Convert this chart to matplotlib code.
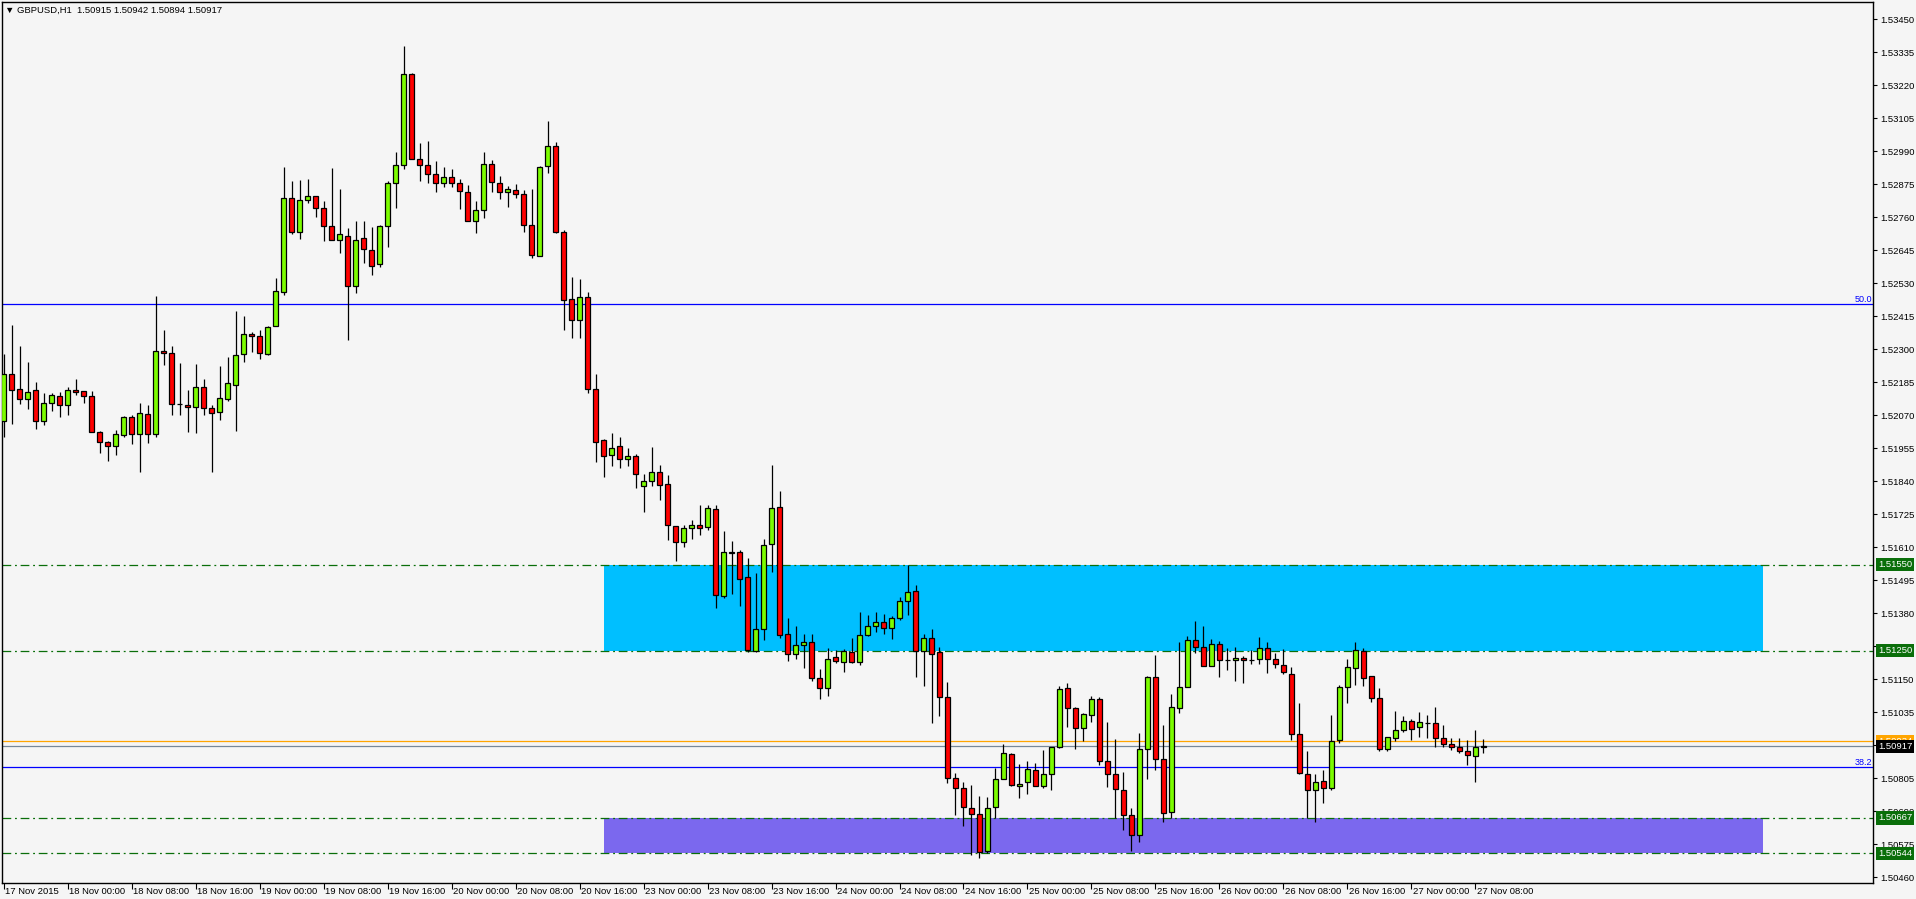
import matplotlib
matplotlib.use("Agg")
import matplotlib.pyplot as plt
import matplotlib.transforms as mtransforms
from matplotlib.patches import Rectangle
import numpy as np

# ---------------- data ----------------
opens = [1.52049,1.52213,1.52161,1.52126,1.52157,1.52049,1.52112,1.52136,1.52105,1.52157,
         1.52154,1.52136,1.52011,1.51976,1.51962,1.52000,1.52063,1.52006,1.52073,1.52006,
         1.52293,1.52286,1.52108,1.52105,1.52098,1.52168,1.52094,1.52080,1.52126,1.52175,
         1.52283,1.52352,1.52345,1.52283,1.52380,1.52499,1.52826,1.52708,1.52819,1.52833,
         1.52791,1.52729,1.52680,1.52694,1.52519,1.52687,1.52645,1.52596,1.52729,1.52878,
         1.52941,1.53258,1.52962,1.52941,1.52910,1.52878,1.52899,1.52878,1.52847,1.52746,
         1.52784,1.52945,1.52878,1.52847,1.52854,1.52840,1.52732,1.52624,1.52938,1.53007,
         1.52708,1.52474,1.52401,1.52481,1.52161,1.51983,1.51931,1.51962,1.51917,1.51927,
         1.51823,1.51840,1.51871,1.51830,1.51683,1.51627,1.51676,1.51687,1.51680,1.51742,
         1.51439,1.51593,1.51593,1.51506,1.51248,1.51324,1.51620,1.51749,1.51307,1.51237,
         1.51269,1.51279,1.51154,1.51119,1.51227,1.51209,1.51244,1.51209,1.51303,1.51335,
         1.51350,1.51328,1.51363,1.51422,1.51457,1.51249,1.51293,1.51244,1.51087,1.50805,
         1.50770,1.50701,1.50680,1.50551,1.50704,1.50802,1.50889,1.50777,1.50791,1.50833,
         1.50777,1.50819,1.50913,1.51119,1.51049,1.50979,1.51025,1.51080,1.50864,1.50819,
         1.50763,1.50676,1.50607,1.50906,1.51157,1.50871,1.50687,1.51049,1.51122,1.51286,
         1.51262,1.51195,1.51272,1.51218,1.51216,1.51223,1.51218,1.51220,1.51258,1.51220,
         1.51199,1.51168,1.50959,1.50819,1.50763,1.50795,1.50770,1.50938,1.51122,1.51188,
         1.51248,1.51161,1.51084,1.50906,1.50945,1.50972,1.51004,1.50983,1.50998,1.50997,
         1.50945,1.50924,1.50913,1.50899,1.50882,1.50915]
highs = [1.52284,1.52385,1.52311,1.52256,1.52186,1.52148,1.52147,1.52151,1.52170,1.52197,
         1.52155,1.52154,1.52016,1.51979,1.52019,1.52068,1.52070,1.52112,1.52105,1.52486,
         1.52367,1.52311,1.52251,1.52158,1.52249,1.52197,1.52105,1.52242,1.52272,1.52432,
         1.52416,1.52359,1.52367,1.52381,1.52548,1.52934,1.52886,1.52890,1.52893,1.52835,
         1.52816,1.52932,1.52859,1.52722,1.52747,1.52747,1.52726,1.52732,1.52885,1.52986,
         1.53357,1.53262,1.53018,1.53025,1.52955,1.52934,1.52927,1.52892,1.52871,1.52816,
         1.52986,1.52959,1.52903,1.52868,1.52875,1.52854,1.52857,1.52938,1.53095,1.53021,
         1.52715,1.52552,1.52544,1.52499,1.52213,1.51986,1.52008,1.51994,1.51955,1.51934,
         1.51864,1.51959,1.51896,1.51861,1.51685,1.51687,1.51704,1.51756,1.51759,1.51756,
         1.51666,1.51631,1.51600,1.51572,1.51519,1.51638,1.51897,1.51805,1.51363,1.51335,
         1.51307,1.51307,1.51185,1.51258,1.51251,1.51255,1.51293,1.51384,1.51373,1.51385,
         1.51378,1.51370,1.51436,1.51548,1.51479,1.51308,1.51324,1.51262,1.51141,1.50823,
         1.50791,1.50781,1.50743,1.50739,1.50840,1.50924,1.50892,1.50854,1.50864,1.50857,
         1.50903,1.50913,1.51126,1.51136,1.51052,1.51032,1.51091,1.51087,1.51000,1.50941,
         1.50826,1.50701,1.50962,1.51161,1.51234,1.50990,1.51098,1.51279,1.51300,1.51352,
         1.51335,1.51290,1.51283,1.51258,1.51262,1.51230,1.51251,1.51297,1.51279,1.51241,
         1.51255,1.51192,1.51066,1.50899,1.50819,1.50833,1.51025,1.51129,1.51220,1.51279,
         1.51258,1.51163,1.51119,1.50948,1.51039,1.51021,1.51011,1.51035,1.51025,1.51052,
         1.50990,1.50945,1.50945,1.50938,1.50972,1.50942]
lows = [1.51995,1.52040,1.52109,1.52093,1.52023,1.52037,1.52084,1.52063,1.52072,1.52140,
        1.52112,1.52011,1.51938,1.51912,1.51933,1.51993,1.51969,1.51874,1.51972,1.51995,
        1.52244,1.52072,1.52072,1.52013,1.52009,1.52072,1.51874,1.52052,1.52119,1.52016,
        1.52255,1.52290,1.52267,1.52279,1.52380,1.52488,1.52703,1.52685,1.52809,1.52760,
        1.52678,1.52680,1.52637,1.52332,1.52495,1.52600,1.52560,1.52586,1.52657,1.52793,
        1.52927,1.52962,1.52885,1.52878,1.52847,1.52864,1.52864,1.52788,1.52746,1.52704,
        1.52756,1.52847,1.52823,1.52795,1.52826,1.52708,1.52617,1.52624,1.52913,1.52704,
        1.52366,1.52338,1.52338,1.52147,1.51906,1.51854,1.51892,1.51885,1.51892,1.51816,
        1.51732,1.51823,1.51774,1.51634,1.51563,1.51612,1.51638,1.51652,1.51669,1.51398,
        1.51432,1.51446,1.51405,1.51244,1.51244,1.51286,1.51523,1.51293,1.51213,1.51220,
        1.51188,1.51143,1.51080,1.51091,1.51206,1.51175,1.51206,1.51199,1.51300,1.51315,
        1.51308,1.51290,1.51357,1.51373,1.51159,1.51128,1.50999,1.51023,1.50788,1.50676,
        1.50640,1.50537,1.50526,1.50544,1.50666,1.50802,1.50777,1.50736,1.50749,1.50777,
        1.50770,1.50763,1.50910,1.50983,1.50906,1.50934,1.51000,1.50851,1.50774,1.50666,
        1.50624,1.50551,1.50582,1.50802,1.50833,1.50652,1.50666,1.51034,1.51122,1.51241,
        1.51195,1.51195,1.51157,1.51181,1.51143,1.51136,1.51202,1.51202,1.51171,1.51188,
        1.51168,1.50938,1.50819,1.50666,1.50652,1.50718,1.50763,1.50927,1.51066,1.51129,
        1.51126,1.51070,1.50899,1.50899,1.50934,1.50965,1.50938,1.50948,1.50945,1.50913,
        1.50913,1.50903,1.50892,1.50851,1.50791,1.50894]
closes = [1.52213,1.52159,1.52126,1.52150,1.52049,1.52112,1.52140,1.52105,1.52157,1.52150,
          1.52136,1.52011,1.51976,1.51962,1.52004,1.52063,1.52006,1.52077,1.52004,1.52293,
          1.52286,1.52108,1.52108,1.52100,1.52168,1.52094,1.52077,1.52129,1.52181,1.52279,
          1.52352,1.52345,1.52286,1.52377,1.52502,1.52826,1.52708,1.52819,1.52833,1.52791,
          1.52729,1.52680,1.52701,1.52519,1.52680,1.52648,1.52589,1.52729,1.52878,1.52941,
          1.53258,1.52962,1.52941,1.52910,1.52878,1.52899,1.52878,1.52851,1.52746,1.52784,
          1.52945,1.52882,1.52847,1.52857,1.52840,1.52732,1.52627,1.52934,1.53007,1.52708,
          1.52471,1.52401,1.52481,1.52161,1.51976,1.51927,1.51955,1.51917,1.51927,1.51864,
          1.51840,1.51871,1.51826,1.51687,1.51627,1.51676,1.51687,1.51676,1.51746,1.51443,
          1.51593,1.51589,1.51499,1.51251,1.51324,1.51617,1.51746,1.51303,1.51237,1.51269,
          1.51279,1.51154,1.51119,1.51220,1.51213,1.51248,1.51209,1.51303,1.51335,1.51350,
          1.51329,1.51363,1.51422,1.51453,1.51249,1.51293,1.51238,1.51087,1.50805,1.50770,
          1.50704,1.50680,1.50547,1.50701,1.50802,1.50892,1.50781,1.50784,1.50836,1.50777,
          1.50819,1.50913,1.51115,1.51049,1.50979,1.51028,1.51080,1.50864,1.50819,1.50767,
          1.50676,1.50607,1.50906,1.51157,1.50871,1.50683,1.51052,1.51122,1.51286,1.51262,
          1.51195,1.51272,1.51216,1.51218,1.51223,1.51216,1.51218,1.51258,1.51220,1.51202,
          1.51175,1.50959,1.50823,1.50763,1.50791,1.50770,1.50934,1.51122,1.51192,1.51251,
          1.51154,1.51084,1.50906,1.50948,1.50972,1.51004,1.50976,1.51000,1.50998,1.50945,
          1.50924,1.50913,1.50899,1.50885,1.50913,1.50917]

time_labels = ["17 Nov 2015", "18 Nov 00:00", "18 Nov 08:00", "18 Nov 16:00", "19 Nov 00:00",
               "19 Nov 08:00", "19 Nov 16:00", "20 Nov 00:00", "20 Nov 08:00", "20 Nov 16:00",
               "23 Nov 00:00", "23 Nov 08:00", "23 Nov 16:00", "24 Nov 00:00", "24 Nov 08:00",
               "24 Nov 16:00", "25 Nov 00:00", "25 Nov 08:00", "25 Nov 16:00", "26 Nov 00:00",
               "26 Nov 08:00", "26 Nov 16:00", "27 Nov 00:00", "27 Nov 08:00"]
time_label_bars = [0, 8, 16, 24, 32, 40, 48, 56, 64, 72, 80, 88, 96, 104, 112, 120,
                   128, 136, 144, 152, 160, 168, 176, 184]

price_ticks = ["1.53450", "1.53335", "1.53220", "1.53105", "1.52990", "1.52875", "1.52760",
               "1.52645", "1.52530", "1.52415", "1.52300", "1.52185", "1.52070", "1.51955",
               "1.51840", "1.51725", "1.51610", "1.51495", "1.51380", "1.51265", "1.51150",
               "1.51035", "1.50920", "1.50805", "1.50690", "1.50575", "1.50460"]

zone_levels = [1.51550, 1.51250, 1.50667, 1.50544]
zone_labels = ["1.51550", "1.51250", "1.50667", "1.50544"]
blue_zone = [1.51250, 1.51550]
purple_zone = [1.50544, 1.50667]
zone_start_bar, zone_end_bar = 75, 220

fibo_levels = [1.52459, 1.50846]
fibo_labels = ["50.0", "38.2"]

bid_price, ask_price = 1.50917, 1.50934
title = "\u25bc GBPUSD,H1  1.50915 1.50942 1.50894 1.50917"

# ---------------- styling ----------------
BG = "#F5F5F5"
BULL = "#7CFC00"
BEAR = "#FF0000"
LVL_GREEN = "#0A6E0A"
FONT = ["Liberation Sans", "DejaVu Sans"]

W, H = 1916, 899
fig = plt.figure(figsize=(W / 100, H / 100), dpi=100, facecolor=BG)
left_px, right_px, top_px, bot_px = 2, 1873, 2, 883
ax = fig.add_axes([left_px / W, 1 - bot_px / H, (right_px - left_px) / W, (bot_px - top_px) / H])
ax.set_facecolor(BG)

n = len(opens)
x = np.arange(n)
o = np.array(opens); h = np.array(highs); l = np.array(lows); c = np.array(closes)

ax.set_xlim(-0.19, 233.69)
ax.set_ylim(1.504403, 1.535100)

# zones
ax.add_patch(Rectangle((zone_start_bar, blue_zone[0]), zone_end_bar - zone_start_bar,
                       blue_zone[1] - blue_zone[0], facecolor="#00BFFF", edgecolor="none", zorder=1))
ax.add_patch(Rectangle((zone_start_bar, purple_zone[0]), zone_end_bar - zone_start_bar,
                       purple_zone[1] - purple_zone[0], facecolor="#7B68EE", edgecolor="none", zorder=1))

# horizontal lines
for lv in zone_levels:
    ax.axhline(lv, color=LVL_GREEN, lw=0.9, linestyle=(0, (7, 3, 1.5, 3)), zorder=1.5)
for lv, lab in zip(fibo_levels, fibo_labels):
    ax.axhline(lv, color="#0000FF", lw=0.9, zorder=1.5)
    ax.text(0.9995, lv, lab, transform=ax.get_yaxis_transform(), ha="right", va="bottom",
            color="#0000FF", fontsize=6.5, family=FONT, zorder=5)
ax.axhline(ask_price, color="#FFA500", lw=0.9, zorder=1.6)
ax.axhline(bid_price, color="#778899", lw=0.9, zorder=1.6)

# candles
colors = np.where(c > o, BULL, np.where(c < o, BEAR, "black"))
ax.vlines(x, l, h, color="black", lw=0.9, zorder=2)
ax.bar(x, np.abs(c - o), bottom=np.minimum(o, c), width=0.55, color=colors,
       edgecolor="black", linewidth=0.9, zorder=3)

# spines
for s in ax.spines.values():
    s.set_color("black")
    s.set_linewidth(1.0)

# y axis on right
ax.yaxis.tick_right()
ax.set_yticks([float(t) for t in price_ticks])
ax.set_yticklabels(price_ticks)
ax.tick_params(axis="y", direction="out", length=3, width=0.8, pad=2, labelsize=6.8,
               colors="black")
for t in ax.get_yticklabels():
    t.set_family(FONT)

# x axis ticks
ax.set_xticks(time_label_bars)
ax.set_xticklabels([])
ax.tick_params(axis="x", direction="out", length=4, width=0.8)
trans = mtransforms.offset_copy(ax.get_xaxis_transform(), fig=fig, x=2, y=-4, units="dots")
for b, lab in zip(time_label_bars, time_labels):
    ax.text(b - 0.06, 0, lab, transform=trans, ha="left", va="top", fontsize=6.8,
            family=FONT, color="black", clip_on=False)

# price boxes on the axis
box_trans = mtransforms.offset_copy(ax.get_yaxis_transform(), fig=fig, x=5, y=0, units="dots")
def price_box(val, text, fc, tc="white", z=10):
    ax.text(1.0, val, text, transform=box_trans, ha="left", va="center", fontsize=6.8,
            family=FONT, color=tc, clip_on=False, zorder=z,
            bbox=dict(boxstyle="square,pad=0.22", fc=fc, ec="none"))

for lv, lab in zip(zone_levels, zone_labels):
    price_box(lv, lab, LVL_GREEN)
price_box(ask_price, "1.50934", "#FFA500", z=10)
price_box(bid_price, "1.50917", "black", z=11)

# title
fig.text(5 / W, 1 - 10 / H, title, ha="left", va="center", fontsize=6.8, family=FONT,
         color="black")

fig.savefig("out.png", dpi=100, facecolor=BG)
